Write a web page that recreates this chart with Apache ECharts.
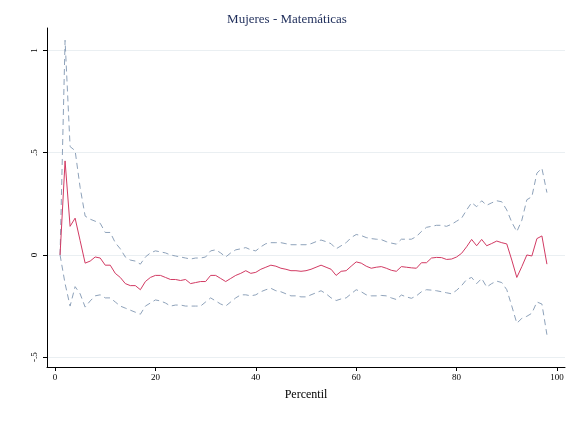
<!DOCTYPE html>
<html>
<head>
<meta charset="utf-8">
<script src="https://cdn.jsdelivr.net/npm/echarts@6/dist/echarts.min.js"></script>
<style>html,body{margin:0;background:#fff}#chart{width:574px;height:432px}</style>
</head>
<body>
<div id="chart"></div>
<script>
const percentiles = Array.from({ length: 98 }, (_, i) => i + 1);
const estimate = [0, 0.46, 0.14, 0.18, 0.07, -0.04, -0.03, -0.01, -0.015, -0.05,
    -0.05, -0.09, -0.11, -0.14, -0.15, -0.15, -0.17, -0.13, -0.11, -0.10,
    -0.10, -0.11, -0.12, -0.12, -0.125, -0.12, -0.14, -0.135, -0.13, -0.13,
    -0.10, -0.10, -0.115, -0.13, -0.115, -0.10, -0.09, -0.077, -0.09, -0.085,
    -0.07, -0.06, -0.05, -0.055, -0.065, -0.07, -0.077, -0.077, -0.08, -0.077,
    -0.07, -0.06, -0.05, -0.06, -0.07, -0.10, -0.08, -0.077, -0.055, -0.034,
    -0.04, -0.055, -0.065, -0.06, -0.057, -0.065, -0.075, -0.08, -0.057, -0.06,
    -0.063, -0.065, -0.038, -0.038, -0.015, -0.012, -0.013, -0.022, -0.02, -0.01,
    0.008, 0.04, 0.076, 0.045, 0.076, 0.045, 0.056, 0.068, 0.06, 0.054,
    -0.025, -0.11, -0.057, 0, -0.005, 0.08, 0.093, -0.045];
const upper = [0, 1.05, 0.53, 0.51, 0.33, 0.19, 0.175, 0.165, 0.155, 0.11,
    0.11, 0.06, 0.03, -0.01, -0.025, -0.03, -0.045, -0.01, 0.01, 0.02,
    0.015, 0.01, 0, -0.005, -0.01, -0.015, -0.02, -0.015, -0.015, -0.01,
    0.02, 0.025, 0.01, -0.01, 0.01, 0.025, 0.03, 0.036, 0.025, 0.02,
    0.04, 0.055, 0.06, 0.06, 0.06, 0.055, 0.05, 0.05, 0.05, 0.05,
    0.055, 0.065, 0.073, 0.065, 0.055, 0.03, 0.045, 0.06, 0.085, 0.1,
    0.095, 0.085, 0.08, 0.077, 0.075, 0.065, 0.058, 0.053, 0.077, 0.077,
    0.077, 0.09, 0.115, 0.135, 0.14, 0.145, 0.145, 0.14, 0.15, 0.165,
    0.18, 0.22, 0.256, 0.236, 0.265, 0.243, 0.255, 0.265, 0.26, 0.22,
    0.16, 0.114, 0.17, 0.27, 0.285, 0.40, 0.424, 0.305];
const lower = [0, -0.14, -0.25, -0.155, -0.19, -0.255, -0.225, -0.2, -0.195, -0.21,
    -0.21, -0.23, -0.25, -0.26, -0.27, -0.28, -0.29, -0.25, -0.235, -0.22,
    -0.225, -0.235, -0.25, -0.245, -0.245, -0.25, -0.25, -0.25, -0.25, -0.23,
    -0.21, -0.225, -0.24, -0.25, -0.23, -0.21, -0.195, -0.195, -0.2, -0.195,
    -0.18, -0.17, -0.163, -0.175, -0.18, -0.19, -0.2, -0.2, -0.205, -0.205,
    -0.195, -0.185, -0.175, -0.19, -0.21, -0.223, -0.215, -0.21, -0.19, -0.17,
    -0.18, -0.195, -0.2, -0.2, -0.198, -0.2, -0.21, -0.218, -0.196, -0.205,
    -0.212, -0.2, -0.18, -0.17, -0.172, -0.175, -0.18, -0.185, -0.19, -0.173,
    -0.15, -0.12, -0.11, -0.14, -0.115, -0.157, -0.14, -0.128, -0.135, -0.17,
    -0.25, -0.334, -0.31, -0.3, -0.285, -0.23, -0.24, -0.39];
const xTicks = [0, 20, 40, 60, 80, 100];
const yTicks = [-0.5, 0, 0.5, 1];
const yTickLabels = ['-.5', '0', '.5', '1'];

const font = 'Liberation Serif';
const pair = (vals) => percentiles.map((p, i) => [p, vals[i]]);
const ciStyle = { color: '#8ea2ba', width: 1, type: [6, 4] };

const chart = echarts.init(document.getElementById('chart'));
chart.setOption({
    backgroundColor: '#fff',
    animation: false,
    textStyle: { fontFamily: font },
    title: {
        text: 'Mujeres - Matemáticas',
        left: 'center',
        top: 8,
        textStyle: { fontFamily: font, fontSize: 13, fontWeight: 'normal', color: '#1e2d5a' },
    },
    grid: { left: 47, right: 9, top: 28, bottom: 65 },
    xAxis: {
        type: 'value',
        min: -1.6,
        max: 101.6,
        name: 'Percentil',
        nameLocation: 'middle',
        nameGap: 22,
        nameTextStyle: { fontFamily: font, fontSize: 12, color: '#000' },
        axisLine: { onZero: false, lineStyle: { color: '#000', width: 1 } },
        axisTick: { show: true, length: 4, customValues: xTicks, lineStyle: { color: '#000' } },
        axisLabel: { customValues: xTicks, fontSize: 9, color: '#000', margin: 6 },
        splitLine: { show: false },
    },
    yAxis: {
        type: 'value',
        min: -0.548,
        max: 1.11,
        axisLine: { show: true, onZero: false, lineStyle: { color: '#000', width: 1 } },
        axisTick: { show: true, length: 4, customValues: yTicks, lineStyle: { color: '#000' } },
        axisLabel: {
            customValues: yTicks,
            fontSize: 9,
            color: '#000',
            rotate: 90,
            margin: 8,
            formatter: (v) => yTickLabels[yTicks.indexOf(v)] ?? '',
        },
        splitLine: { show: true, lineStyle: { color: '#eaeff2', width: 1 } },
    },
    series: [
        { type: 'line', data: pair(upper), symbol: 'none', lineStyle: ciStyle },
        { type: 'line', data: pair(lower), symbol: 'none', lineStyle: ciStyle },
        { type: 'line', data: pair(estimate), symbol: 'none', lineStyle: { color: '#d23a63', width: 1 } },
    ],
});
</script>
</body>
</html>
